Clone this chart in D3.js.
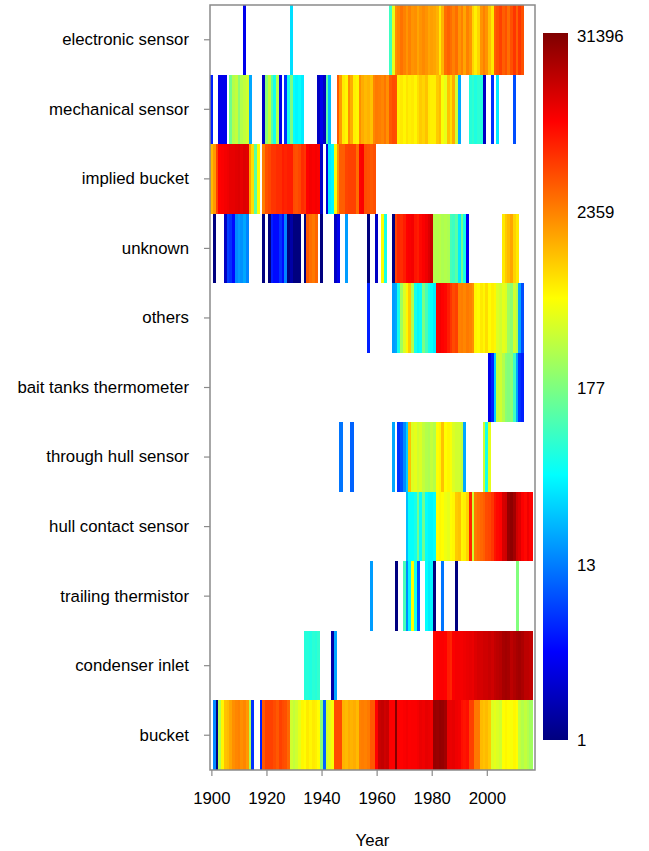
<!DOCTYPE html>
<html>
<head>
<meta charset="utf-8">
<script src="https://cdn.jsdelivr.net/npm/d3@7"></script>
<style>
  body { margin: 0; background: #fff; }
  text { font-family: "Liberation Sans", Arial, sans-serif; fill: #000; }
</style>
</head>
<body>
<div id="container"></div>
<script>
/* CONSTANTS AND GLOBALS */
const width = 649,
  height = 851,
  margin = { top: 5, bottom: 81, left: 210, right: 114 };

/* DATA */
// categories, top to bottom
const categories = ["electronic sensor", "mechanical sensor", "implied bucket", "unknown", "others",
  "bait tanks thermometer", "through hull sensor", "hull contact sensor", "trailing thermistor",
  "condenser inlet", "bucket"];

// each series: [first year, [values per consecutive year]]
const electronicSensor = [[1912, [3]], [1929, [35]],
  [1965, [90, 500, 2000, 2300, 2700, 2300, 1900, 2300, 1900, 2000, 1600, 1900, 2100, 1900, 1600, 1700,
    1600, 1400, 800, 1400, 2800, 3200, 2800, 2300, 2800, 1900, 2300, 1600, 2300, 1900, 1000, 750, 1000,
    1900, 2300, 1900, 1200, 800, 3300, 3800, 4500, 3300, 3800, 2800, 3800, 5000, 3300, 5000, 3800]]];

const mechanicalSensor = [[1900, [5]], [1903, [3, 3, 3]], [1907, [150, 300, 350, 200, 300, 350, 400, 20]],
  [1919, [2, 200, 350, 120, 60, 300, 3]], [1927, [6, 60, 170, 50, 45, 50, 40]], [1939, [2, 3, 2, 120, 25]],
  [1946, [3500, 1800, 800, 700, 2000, 1500, 750, 700, 2000, 1500, 1300, 1400, 1200, 2200, 2500, 2400, 2200,
    2600, 2000, 3500, 4000, 3800, 750, 800, 700, 850, 750, 800, 700, 900, 1100, 1000, 1200, 800, 750, 750,
    1100, 1300, 600, 500, 1200, 900, 1500, 400, 20]],
  [1994, [70, 80, 65, 75, 70, 2]], [2002, [6]], [2004, [40]], [2010, [8]]];

const impliedBucket = [[1900, [1300, 1800, 4500, 8600, 9000, 9500, 10000, 11000, 11000, 11500, 12000, 11000,
    12000, 11500, 1600, 900, 120, 650]],
  [1919, [2400, 3800, 4200, 5000, 5000, 5500, 5500, 6500, 6000, 6500, 6500, 4000, 3800, 4200, 5500, 5000,
    8500, 9500, 9000, 9500, 9000]],
  [1940, [2]],
  [1942, [2.5, 40, 45, 650, 1800, 3300, 3300, 4300, 4500, 4500, 4500, 2800, 8500, 9000, 4000, 3800, 3500, 3800]]];

const unknown = [[1901, [1]], [1905, [2, 7, 6, 4, 15, 18, 16, 20, 14]], [1919, [1]],
  [1921, [1, 5, 4, 4, 6, 4, 14, 1, 1.5, 1, 1, 1]], [1934, [1, 3500, 2800, 2500, 3000]], [1940, [1]],
  [1945, [2, 3]], [1949, [18]], [1957, [1]], [1960, [2]], [1962, [650, 60]],
  [1966, [1, 4500, 6000, 5500, 6500, 8500, 9000, 9500, 7000, 6500, 8000, 9000, 10000, 12000, 15000,
    300, 300, 320, 280, 300, 280, 100, 90, 120, 40, 150, 60, 3]],
  [2006, [800, 1100, 1300, 1600, 1000, 800]]];

const others = [[1957, [5]],
  [1966, [18, 20, 60, 250, 450, 700, 1100, 300, 60, 45, 50, 170, 100, 60, 50, 40,
    9000, 9500, 8500, 8000, 6500, 5000, 4000, 4500, 2300, 2400, 2200, 2500, 2300, 2000,
    700, 650, 800, 700, 900, 650, 750, 700, 450, 400, 500, 450, 250, 200, 400, 300, 20, 8]]];

const baitTanks = [[2001, [3, 5, 30, 350, 400, 300, 200, 180, 200, 90, 20, 6, 5]]];

const throughHull = [[1947, [12]], [1951, [10]], [1966, [20]],
  [1968, [6, 8, 15, 30, 1200, 450, 500, 400, 450, 350, 300, 280, 350, 300, 650, 700, 1200, 650, 700, 600,
    450, 400, 400, 350, 20]],
  [1999, [400, 60, 500]]];

const hullContact = [[1971, [25, 50, 50, 60, 150, 50, 150, 50, 45, 45, 50, 650, 700, 650, 550, 500, 650, 700,
  1100, 1200, 700, 750, 1000, 6000, 400, 2500, 2800, 3000, 3300, 4000, 4200, 5000, 7000, 8000, 8500, 13000,
  14000, 25000, 27000, 22000, 14000, 12000, 9000, 8000, 10000, 8500]]];

const trailingThermistor = [[1958, [18]], [1967, [1]], [1970, [100, 15, 45, 650, 60, 8]],
  [1978, [50, 40, 45, 1]], [1984, [12]], [1989, [1]], [2011, [180]]];

const condenserInlet = [[1934, [70, 70, 65, 75, 70, 80]], [1944, [1.5, 20]],
  [1981, [8000, 8600, 9000, 9000, 8600, 6500, 6000, 9000, 9500, 9500, 9500, 10000, 10500, 11000,
    10500, 12000, 13000, 13000, 14000, 14000, 15000, 14000, 16000, 17000, 18000, 21000, 22000, 21000,
    17000, 19000, 21000, 22000, 20000, 17000, 17000, 16000]]];

const bucket = [[1901, [15, 1, 300, 700, 1200, 1300, 1600, 2000, 2200, 2300, 2000, 2200, 1800, 300, 6]],
  [1918, [5, 3500, 4500, 4500, 4500, 4000, 3500, 4500, 4000, 3800, 3000, 400, 350, 400, 500, 700, 650, 800,
    700, 800, 750, 650, 200, 10, 400, 500, 600, 4000, 4000, 4000, 1400, 1300, 1500, 1400, 1500, 1300, 2300,
    2400, 2300, 2500, 3500, 3500, 8600, 15000, 16000, 14000, 15000, 9000, 9000, 30000, 9000, 8500, 9000,
    9500, 8800, 9000, 9000, 9500, 10500, 10000, 11000, 10500, 10000, 25000, 24000, 26000, 25000, 22000,
    11000, 10500, 11000, 10000, 9500, 7500, 7000, 7500, 4500, 4500, 2500, 2500, 1300, 1200, 1300, 1100,
    450, 500, 450, 400, 650, 700, 650, 600, 700, 650, 350, 300, 350, 300, 250]]];

const series = [electronicSensor, mechanicalSensor, impliedBucket, unknown, others, baitTanks,
  throughHull, hullContact, trailingThermistor, condenserInlet, bucket];

const xTicks = [1900, 1920, 1940, 1960, 1980, 2000];
const legendTicks = [1, 13, 177, 2359, 31396];
const jetStops = ["#00007F", "#0000FF", "#007FFF", "#00FFFF", "#7FFF7F", "#FFFF00", "#FF7F00", "#FF0000", "#7F0000"];

// flatten to cells
const cells = [];
series.forEach((segs, i) => {
  segs.forEach(([start, vals]) => {
    vals.forEach((v, j) => {
      if (v != null) cells.push({ cat: categories[i], year: start + j, value: v });
    });
  });
});

/* SCALES */
const xScale = d3.scaleLinear()
  .domain([1899.5, 2017.5])
  .range([margin.left, width - margin.right]);

const yScale = d3.scaleBand()
  .domain(categories)
  .range([margin.top, height - margin.bottom])
  .padding(0);

const tScale = d3.scaleLog().domain([1, 31396]).range([0, 1]).clamp(true);
const jet = d3.piecewise(d3.interpolateRgb, jetStops);
const colorOf = v => jet(tScale(v));

/* HTML ELEMENTS */
const svg = d3.select("#container")
  .append("svg")
  .attr("width", width)
  .attr("height", height);

// cells
svg.append("g")
  .selectAll("rect")
  .data(cells)
  .join("rect")
  .attr("x", d => xScale(d.year - 0.5))
  .attr("width", d => xScale(d.year + 0.5) - xScale(d.year - 0.5) + 0.3)
  .attr("y", d => yScale(d.cat))
  .attr("height", yScale.bandwidth())
  .attr("fill", d => colorOf(d.value))
  .attr("shape-rendering", "crispEdges");

// frame
svg.append("rect")
  .attr("x", margin.left)
  .attr("y", margin.top)
  .attr("width", width - margin.right - margin.left)
  .attr("height", height - margin.bottom - margin.top)
  .attr("fill", "none")
  .attr("stroke", "#8a8a8a")
  .attr("stroke-width", 1.5);

// axes
const xAxis = d3.axisBottom(xScale).tickValues(xTicks).tickFormat(d3.format("d")).tickSize(6).tickPadding(16);
const yAxis = d3.axisLeft(yScale).tickSize(6).tickPadding(15);

const gx = svg.append("g")
  .attr("transform", `translate(0,${height - margin.bottom})`)
  .call(xAxis);
const gy = svg.append("g")
  .attr("transform", `translate(${margin.left},0)`)
  .call(yAxis);

[gx, gy].forEach(g => {
  g.select(".domain").remove();
  g.selectAll(".tick line").attr("stroke", "#8a8a8a").attr("stroke-width", 1.2);
  g.selectAll(".tick text").attr("font-size", 16.8).attr("fill", "#000")
    .attr("font-family", "'Liberation Sans', Arial, sans-serif");
});

svg.append("text")
  .attr("x", (margin.left + width - margin.right) / 2)
  .attr("y", 846)
  .attr("text-anchor", "middle")
  .attr("font-size", 16.8)
  .text("Year");

// color legend
const legendScale = d3.scaleLog().domain([1, 31396]).range([740, 36]);
const defs = svg.append("defs");
const grad = defs.append("linearGradient")
  .attr("id", "jet")
  .attr("x1", 0).attr("y1", 1).attr("x2", 0).attr("y2", 0);
grad.selectAll("stop")
  .data(jetStops)
  .join("stop")
  .attr("offset", (d, i) => i / (jetStops.length - 1))
  .attr("stop-color", d => d);

svg.append("rect")
  .attr("x", 543)
  .attr("y", legendScale(31396) - 3)
  .attr("width", 25)
  .attr("height", legendScale(1) - legendScale(31396) + 3)
  .attr("fill", "url(#jet)");

svg.append("g")
  .selectAll("text")
  .data(legendTicks)
  .join("text")
  .attr("x", 577)
  .attr("y", d => legendScale(d))
  .attr("dy", "0.35em")
  .attr("font-size", 16.8)
  .text(d => d);
</script>
</body>
</html>
